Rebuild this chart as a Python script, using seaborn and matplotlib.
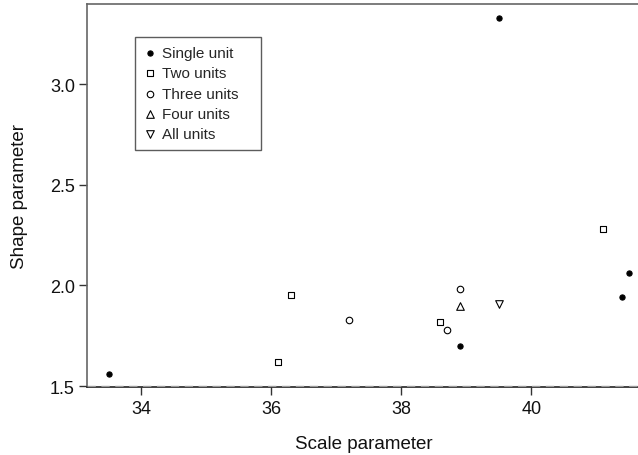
import matplotlib
matplotlib.use("Agg")
import matplotlib.pyplot as plt
import seaborn as sns

# Data
single_x = [33.5, 39.5, 38.9, 41.5, 41.4]
single_y = [1.56, 3.33, 1.70, 2.06, 1.94]
two_x = [36.3, 36.1, 38.6, 41.1]
two_y = [1.95, 1.62, 1.82, 2.28]
three_x = [37.2, 38.7, 38.9]
three_y = [1.83, 1.78, 1.98]
four_x = [38.9]
four_y = [1.90]
all_x = [39.5]
all_y = [1.91]

x_ticks = [34, 36, 38, 40]
y_ticks = [1.5, 2.0, 2.5, 3.0]

sns.set_theme(style="white")
plt.rcParams['font.family'] = ['Liberation Sans', 'DejaVu Sans']

fig = plt.figure(figsize=(6.38, 4.56), dpi=100)
ax = fig.add_axes([0.137, 0.149, 0.868, 0.841])

groups = [
    ("Single unit", single_x, single_y, "o", 14, "black"),
    ("Two units", two_x, two_y, "s", 22, "white"),
    ("Three units", three_x, three_y, "o", 22, "white"),
    ("Four units", four_x, four_y, "^", 30, "white"),
    ("All units", all_x, all_y, "v", 30, "white"),
]
for name, xs, ys, mk, s, fc in groups:
    sns.scatterplot(x=xs, y=ys, marker=mk, s=s, facecolor=fc,
                    edgecolor="black", linewidth=0.8, label=name, ax=ax)

ax.set_xlim(33.17, 41.69)
ax.set_ylim(1.495, 3.40)
ax.set_xticks(x_ticks)
ax.set_xticklabels([str(t) for t in x_ticks])
ax.set_yticks(y_ticks)
ax.set_yticklabels([f"{t:.1f}" for t in y_ticks])

ax.axhline(1.5, color="#999999", lw=1.0, ls=(0, (6, 4)), zorder=3)

for side in ["top", "left"]:
    ax.spines[side].set_color("#666666")
    ax.spines[side].set_linewidth(1.2)
ax.spines["bottom"].set_color("#222222")
ax.spines["bottom"].set_linewidth(1.2)
ax.spines["right"].set_visible(False)

ax.tick_params(axis="both", which="both", direction="out", length=6,
               width=1.0, color="#333333", labelsize=13, labelcolor="#111111",
               bottom=True, left=True, pad=3)

ax.set_xlabel("Scale parameter", fontsize=13.5, color="#111111", labelpad=13)
ax.set_ylabel("Shape parameter", fontsize=13.5, color="#111111", labelpad=16)

leg = ax.legend(loc="upper left", bbox_to_anchor=(0.086, 0.6, 0.227, 0.312),
                mode="expand", borderaxespad=0, fontsize=11, frameon=True,
                fancybox=False, edgecolor="#333333", labelspacing=0.42,
                handletextpad=0.3, handlelength=0.9, borderpad=0.55)
leg.get_frame().set_linewidth(1.0)

fig.savefig("out.png", dpi=100)
